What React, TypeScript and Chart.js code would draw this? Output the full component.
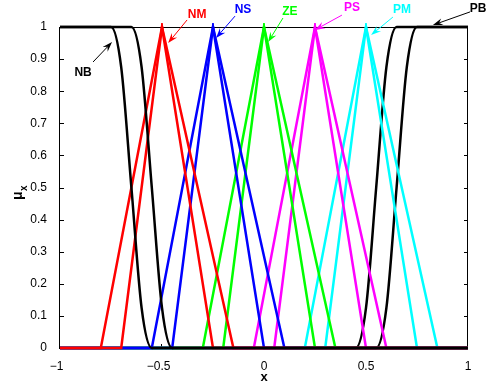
import React, { useEffect, useRef } from "react";
import { Chart, registerables } from "chart.js";

Chart.register(...registerables);

// ---- data ----
const xTickValues = [-1, -0.5, 0, 0.5, 1];
const yTickValues = [0, 0.1, 0.2, 0.3, 0.4, 0.5, 0.6, 0.7, 0.8, 0.9, 1];

// NB (z-shaped curves)
const nbX1 = [-1, -0.75, -0.7, -0.65, -0.6, -0.55, 1];
const nbX2 = [-1, -0.65, -0.6, -0.55, -0.5, -0.45, 1];
const nbY = [1, 1, 0.875, 0.5, 0.125, 0, 0];
// PB (s-shaped curves)
const pbX1 = [-1, 0.45, 0.5, 0.55, 0.6, 0.65, 1];
const pbX2 = [-1, 0.55, 0.6, 0.65, 0.7, 0.75, 1];
const pbY = [0, 0, 0.125, 0.5, 0.875, 1, 1];
// triangles: [start, left foot, peak, right foot, end]
const triY = [0, 0, 1, 0, 0];
const nmX1 = [-1, -0.8, -0.5, -0.25, 1];
const nmX2 = [-1, -0.7, -0.5, -0.15, 1];
const nsX1 = [-1, -0.55, -0.25, 0, 1];
const nsX2 = [-1, -0.45, -0.25, 0.1, 1];
const zeX1 = [-1, -0.3, 0, 0.25, 1];
const zeX2 = [-1, -0.2, 0, 0.35, 1];
const psX1 = [-1, -0.05, 0.25, 0.5, 1];
const psX2 = [-1, 0.05, 0.25, 0.6, 1];
const pmX1 = [-1, 0.2, 0.5, 0.75, 1];
const pmX2 = [-1, 0.3, 0.5, 0.85, 1];

const setNames = ["NB", "NM", "NS", "ZE", "PS", "PM", "PB"];
const setColors = ["#000000", "#ff0000", "#0000ff", "#00ff00", "#ff00ff", "#00ffff", "#000000"];

// annotation label / arrow positions in data units
const labelPos = [
  [-0.887, 0.857],
  [-0.328, 1.037],
  [-0.103, 1.053],
  [0.127, 1.047],
  [0.431, 1.059],
  [0.676, 1.053],
  [1.049, 1.056],
];
const arrowTail = [
  [-0.838, 0.891],
  [-0.377, 1.022],
  [-0.142, 1.034],
  [0.093, 1.028],
  [0.382, 1.037],
  [0.632, 1.031],
  [1.01, 1.047],
];
const arrowTip = [
  [-0.745, 0.953],
  [-0.47, 0.95],
  [-0.235, 0.966],
  [0.02, 0.953],
  [0.25, 0.991],
  [0.525, 0.975],
  [0.828, 1.006],
];

const FONT = "'Liberation Sans', Arial, Helvetica, sans-serif";

const pts = (xs: number[], ys: number[]) => xs.map((x, i) => ({ x, y: ys[i] }));

function fmt(v: number): string {
  if (v < 0) return "\u2212" + String(-v) + "  ";
  return String(v);
}

function drawArrow(ctx: CanvasRenderingContext2D, x1: number, y1: number, x2: number, y2: number, color: string) {
  const a = Math.atan2(y2 - y1, x2 - x1);
  const ux = Math.cos(a), uy = Math.sin(a);
  const nx = -uy, ny = ux;
  const L = 10, W = 3.5, B = 6.5;
  ctx.save();
  ctx.strokeStyle = color;
  ctx.fillStyle = color;
  ctx.lineWidth = 1;
  ctx.beginPath();
  ctx.moveTo(x1, y1);
  ctx.lineTo(x2 - B * ux, y2 - B * uy);
  ctx.stroke();
  ctx.beginPath();
  ctx.moveTo(x2, y2);
  ctx.lineTo(x2 - L * ux + W * nx, y2 - L * uy + W * ny);
  ctx.lineTo(x2 - B * ux, y2 - B * uy);
  ctx.lineTo(x2 - L * ux - W * nx, y2 - L * uy - W * ny);
  ctx.closePath();
  ctx.fill();
  ctx.restore();
}

const framePlugin = {
  id: "matlabFrame",
  beforeDatasetsDraw(chart: any) {
    const { ctx, chartArea } = chart;
    const xs = chart.scales.x, ys = chart.scales.y;
    const { left, right, top, bottom } = chartArea;
    ctx.save();
    ctx.strokeStyle = "#000";
    ctx.lineWidth = 1;
    ctx.strokeRect(left - 0.5, top + 0.5, right - left, bottom - top);
    ctx.beginPath();
    const tl = 4;
    for (const v of yTickValues) {
      const py = Math.round(ys.getPixelForValue(v)) + 0.5;
      ctx.moveTo(left, py);
      ctx.lineTo(left + tl, py);
      ctx.moveTo(right, py);
      ctx.lineTo(right - tl, py);
    }
    for (const v of xTickValues) {
      const px = Math.round(xs.getPixelForValue(v)) - 0.5;
      ctx.moveTo(px, bottom);
      ctx.lineTo(px, bottom - tl);
      ctx.moveTo(px, top);
      ctx.lineTo(px, top + tl);
    }
    ctx.stroke();
    ctx.restore();
  },
  afterDraw(chart: any) {
    const { ctx, chartArea } = chart;
    const xs = chart.scales.x, ys = chart.scales.y;
    ctx.save();
    // annotations
    for (let i = 0; i < setNames.length; i++) {
      const c = setColors[i];
      drawArrow(
        ctx,
        xs.getPixelForValue(arrowTail[i][0]),
        ys.getPixelForValue(arrowTail[i][1]),
        xs.getPixelForValue(arrowTip[i][0]),
        ys.getPixelForValue(arrowTip[i][1]),
        c
      );
      ctx.fillStyle = c;
      ctx.font = `bold 12px ${FONT}`;
      ctx.textAlign = "center";
      ctx.textBaseline = "middle";
      ctx.fillText(setNames[i], xs.getPixelForValue(labelPos[i][0]), ys.getPixelForValue(labelPos[i][1]));
    }
    // x axis title
    ctx.fillStyle = "#000";
    ctx.font = `bold 13px ${FONT}`;
    ctx.textAlign = "center";
    ctx.textBaseline = "middle";
    const cx = (chartArea.left + chartArea.right) / 2;
    ctx.fillText("x", cx, chartArea.bottom + 29);
    // y axis title  μ with subscript x
    ctx.save();
    ctx.translate(22, (chartArea.top + chartArea.bottom) / 2 + 4);
    ctx.rotate(-Math.PI / 2);
    ctx.textBaseline = "alphabetic";
    ctx.textAlign = "right";
    ctx.font = `bold 14px ${FONT}`;
    ctx.fillText("\u03bc", 0, 0);
    ctx.textAlign = "left";
    ctx.font = `bold 10px ${FONT}`;
    ctx.fillText("x", 0.5, 5);
    ctx.restore();
    ctx.restore();
  },
};

export default function App() {
  const ref = useRef<HTMLCanvasElement | null>(null);
  useEffect(() => {
    if (!ref.current) return;
    const ds = (xs: number[], ys: number[], color: string, smooth: boolean) => ({
      data: pts(xs, ys),
      borderColor: color,
      backgroundColor: color,
      borderWidth: 2.5,
      pointRadius: 0,
      fill: false,
      tension: 0,
      cubicInterpolationMode: smooth ? "monotone" : "default",
      clip: 4,
    });
    const chart = new Chart(ref.current, {
      type: "line",
      data: {
        datasets: [
          ds(nbX1, nbY, setColors[0], true),
          ds(nbX2, nbY, setColors[0], true),
          ds(nmX1, triY, setColors[1], false),
          ds(nmX2, triY, setColors[1], false),
          ds(nsX1, triY, setColors[2], false),
          ds(nsX2, triY, setColors[2], false),
          ds(zeX1, triY, setColors[3], false),
          ds(zeX2, triY, setColors[3], false),
          ds(psX1, triY, setColors[4], false),
          ds(psX2, triY, setColors[4], false),
          ds(pmX1, triY, setColors[5], false),
          ds(pmX2, triY, setColors[5], false),
          ds(pbX1, pbY, setColors[6], true),
          ds(pbX2, pbY, setColors[6], true),
        ] as any,
      },
      options: {
        animation: false,
        responsive: false,
        layout: { padding: { left: 0, top: 27, right: 22, bottom: 0 } },
        plugins: { legend: { display: false }, tooltip: { enabled: false } },
        scales: {
          x: {
            type: "linear",
            min: -1,
            max: 1,
            afterBuildTicks: (s: any) => {
              s.ticks = xTickValues.map((v) => ({ value: v }));
            },
            afterFit: (s: any) => {
              s.height = 37;
            },
            grid: { display: false },
            border: { display: false },
            ticks: {
              callback: (v: any) => fmt(Number(v)),
              font: { family: FONT, size: 12 },
              color: "#000",
              padding: 3,
              maxRotation: 0,
              autoSkip: false,
            },
          },
          y: {
            type: "linear",
            min: 0,
            max: 1,
            afterBuildTicks: (s: any) => {
              s.ticks = yTickValues.map((v) => ({ value: v }));
            },
            afterFit: (s: any) => {
              s.width = 60;
            },
            grid: { display: false },
            border: { display: false },
            ticks: {
              callback: (v: any) => fmt(Number(v)),
              font: { family: FONT, size: 12 },
              color: "#000",
              padding: 5,
              autoSkip: false,
            },
          },
        },
      } as any,
      plugins: [framePlugin],
    });
    return () => chart.destroy();
  }, []);
  return (
    <div style={{ position: "absolute", left: 0, top: 0, width: 490, height: 385, background: "#fff" }}>
      <canvas ref={ref} width={490} height={385} style={{ display: "block", width: 490, height: 385 }} />
    </div>
  );
}
